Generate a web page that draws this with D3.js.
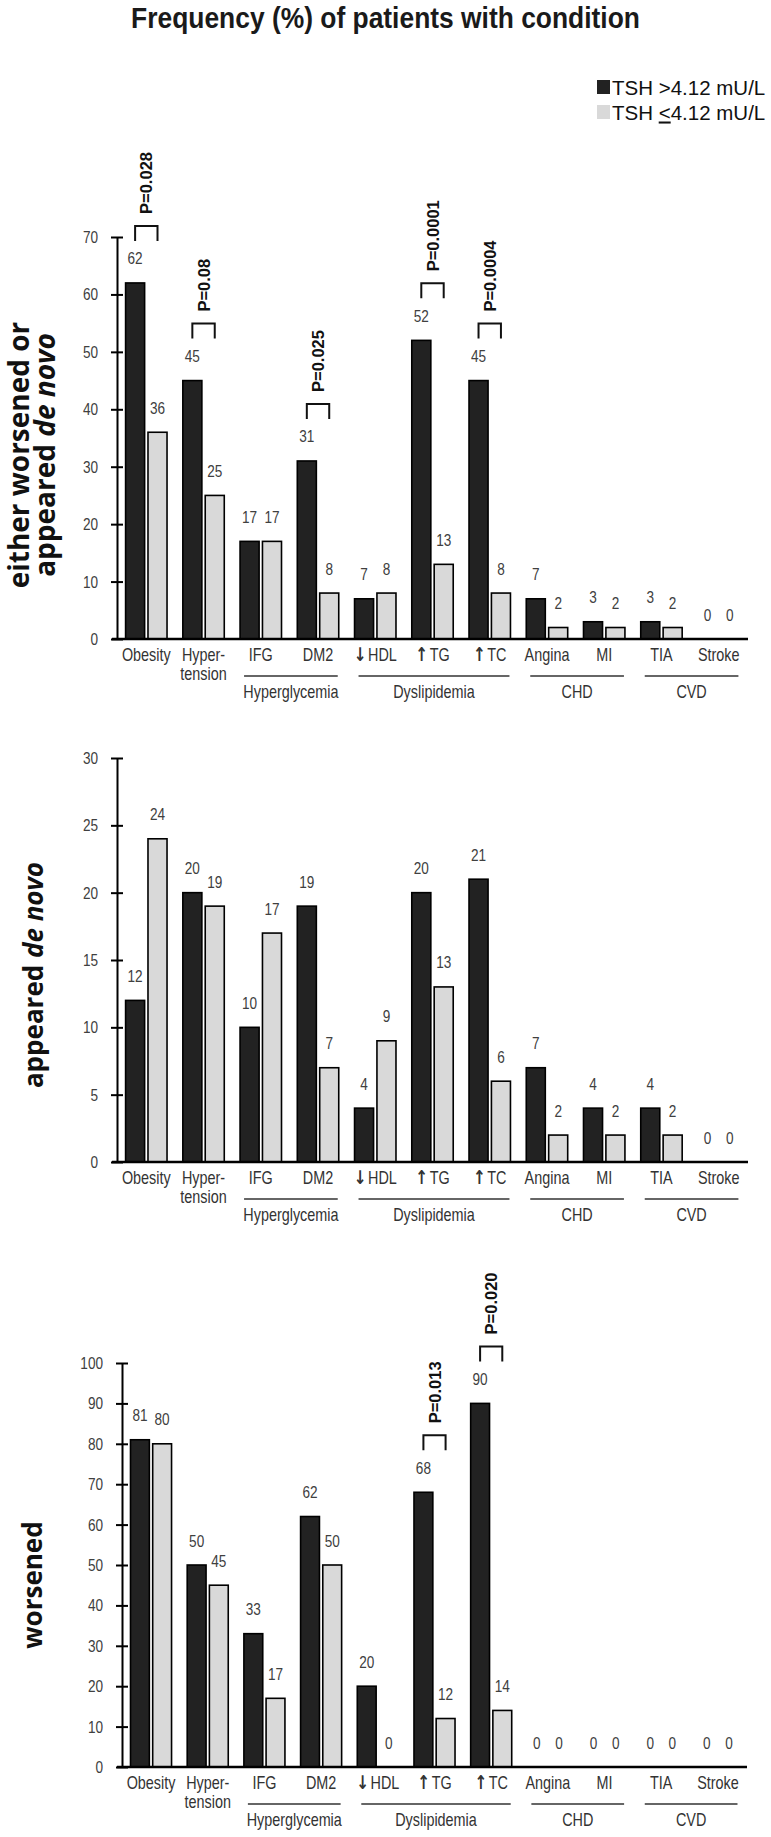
<!DOCTYPE html>
<html>
<head>
<meta charset="utf-8">
<script src="https://cdn.jsdelivr.net/npm/d3@7"></script>
<style>
  html, body { margin: 0; padding: 0; background: #fff; }
  svg { display: block; }
</style>
</head>
<body>
<svg id="chart" width="771" height="1837"></svg>
<script>
// ---------------- DATA ----------------
const categories = ["Obesity", "Hypertension", "IFG", "DM2", "HDL", "TG", "TC", "Angina", "MI", "TIA", "Stroke"];
const categoryLabels = [["Obesity"], ["Hyper-", "tension"], ["IFG"], ["DM2"], ["\u2193HDL"], ["\u2191 TG"], ["\u2191 TC"], ["Angina"], ["MI"], ["TIA"], ["Stroke"]];
const seriesNames = ["TSH >4.12 mU/L", "TSH \u22644.12 mU/L"];

const groupNames = ["Hyperglycemia", "Dyslipidemia", "CHD", "CVD"];
const groupMembers = [["IFG", "DM2"], ["HDL", "TG", "TC"], ["Angina", "MI"], ["TIA", "Stroke"]];

// Panel 1: either worsened or appeared de novo
const p1High = [62, 45, 17, 31, 7, 52, 45, 7, 3, 3, 0];
const p1Low  = [36, 25, 17, 8, 8, 13, 8, 2, 2, 2, 0];
const p1Ticks = [0, 10, 20, 30, 40, 50, 60, 70];
const p1PCats = ["Obesity", "Hypertension", "DM2", "TG", "TC"];
const p1PText = ["P=0.028", "P=0.08", "P=0.025", "P=0.0001", "P=0.0004"];

// Panel 2: appeared de novo
const p2High = [12, 20, 10, 19, 4, 20, 21, 7, 4, 4, 0];
const p2Low  = [24, 19, 17, 7, 9, 13, 6, 2, 2, 2, 0];
const p2Ticks = [0, 5, 10, 15, 20, 25, 30];
const p2PCats = [];
const p2PText = [];

// Panel 3: worsened
const p3High = [81, 50, 33, 62, 20, 68, 90, 0, 0, 0, 0];
const p3Low  = [80, 45, 17, 50, 0, 12, 14, 0, 0, 0, 0];
const p3Ticks = [0, 10, 20, 30, 40, 50, 60, 70, 80, 90, 100];
const p3PCats = ["TG", "TC"];
const p3PText = ["P=0.013", "P=0.020"];

// ---------------- LAYOUT ----------------
const svg = d3.select("#chart");
const ARIAL = "'Liberation Sans', Arial, sans-serif";
const TITLEFONT = "'Open Sans', 'Noto Sans', sans-serif";
const DARK = "#222222", LIGHT = "#d9d9d9";
const NX = 0.8;   // horizontal squeeze for condensed labels

// helper: condensed text at (x,y); arrows drawn larger/bolder
function narrowText(parent, x, y, txt, size, fill, anchor) {
  const t = parent.append("text")
    .attr("transform", `translate(${x},${y}) scale(${NX},1)`)
    .attr("text-anchor", anchor || "middle")
    .style("font-family", ARIAL).style("font-size", size + "px").style("fill", fill);
  const s = String(txt);
  const m = s.match(/^([\u2191\u2193])\s?(.*)$/);
  if (m) {
    t.append("tspan").style("font-family", "'DejaVu Sans', sans-serif")
      .style("font-weight", "bold").style("font-size", (size + 1) + "px").text(m[1]);
    t.append("tspan").attr("dx", 2).text(m[2]);
  } else {
    t.text(s);
  }
  return t;
}

// Title
svg.append("text")
  .attr("transform", "translate(385.5,28) scale(0.88,1)")
  .attr("text-anchor", "middle")
  .style("font-family", ARIAL).style("font-size", "30px").style("font-weight", "bold")
  .style("fill", "#1a1a1a")
  .text("Frequency (%) of patients with condition");

// Legend
const legend = svg.append("g");
[DARK, LIGHT].forEach((c, i) => {
  const cy = 87 + i * 25;
  legend.append("rect").attr("x", 597).attr("y", cy - 7).attr("width", 13).attr("height", 14)
    .attr("fill", c);
  const t = legend.append("text").attr("x", 612).attr("y", cy + 7.5)
    .style("font-family", ARIAL).style("font-size", "20.5px").style("fill", "#111");
  if (i === 0) {
    t.text(seriesNames[0]);
  } else {
    t.append("tspan").text("TSH ");
    t.append("tspan").style("text-decoration", "underline").text("<");
    t.append("tspan").text("4.12 mU/L");
  }
});

const panels = [
  { high: p1High, low: p1Low, ticks: p1Ticks, pCats: p1PCats, pText: p1PText,
    yRange: [639, 237], axisX: 117, xEnd: 748,
    label: [["either worsened or"], ["appeared ", "de novo"]], labelCY: 455, labelX: [29, 55], labelSize: 28 },
  { high: p2High, low: p2Low, ticks: p2Ticks, pCats: p2PCats, pText: p2PText,
    yRange: [1162, 758], axisX: 117, xEnd: 748,
    label: [["appeared ", "de novo"]], labelCY: 975, labelX: [43], labelSize: 26 },
  { high: p3High, low: p3Low, ticks: p3Ticks, pCats: p3PCats, pText: p3PText,
    yRange: [1767, 1363], axisX: 122, xEnd: 747,
    label: [["worsened"]], labelCY: 1585, labelX: [42], labelSize: 26 }
];

panels.forEach(P => {
  const g = svg.append("g");
  const yMax = d3.max(P.ticks);
  const y = d3.scaleLinear().domain([0, yMax]).range(P.yRange);
  const x = d3.scaleBand().domain(categories).range([P.axisX, P.xEnd])
    .paddingInner(0.276).paddingOuter(0.15);
  const xs = d3.scaleBand().domain([0, 1]).range([0, x.bandwidth()]).paddingInner(0.15);
  const y0 = y(0);

  // bars
  const rows = categories.map((c, i) => ({ cat: c, vals: [P.high[i], P.low[i]] }));
  const grp = g.selectAll("g.cat").data(rows).join("g")
    .attr("transform", d => `translate(${x(d.cat)},0)`);
  grp.selectAll("rect").data(d => d.vals.map((v, k) => ({ v, k }))).join("rect")
    .filter(d => d.v > 0)
    .attr("x", d => xs(d.k))
    .attr("y", d => y(d.v))
    .attr("width", xs.bandwidth())
    .attr("height", d => y0 - y(d.v))
    .attr("fill", d => d.k === 0 ? DARK : LIGHT)
    .attr("stroke", "#000").attr("stroke-width", 1.6);
  grp.each(function (d) {
    const gg = d3.select(this);
    d.vals.forEach((v, k) => {
      narrowText(gg, xs(k) + xs.bandwidth() / 2, y(v) - 18.5, v, 17, "#404040");
    });
  });

  // y axis
  const ax = d3.axisLeft(y).tickValues(P.ticks).tickSize(6).tickSizeOuter(0).tickPadding(13);
  const ag = g.append("g").attr("transform", `translate(${P.axisX},0)`).call(ax);
  ag.select(".domain").attr("stroke", "#000").attr("stroke-width", 2);
  ag.selectAll(".tick line").attr("x1", 6).attr("stroke", "#000").attr("stroke-width", 2);
  ag.selectAll(".tick text")
    .attr("x", -19 / NX)
    .attr("transform", `scale(${NX},1)`)
    .style("font-family", ARIAL).style("font-size", "17px").style("fill", "#404040");

  // x axis baseline
  g.append("line").attr("x1", P.axisX - 5).attr("x2", P.xEnd).attr("y1", y0).attr("y2", y0)
    .attr("stroke", "#000").attr("stroke-width", 2.5);

  // category labels
  categoryLabels.forEach((lines, i) => {
    const cx = x(categories[i]) + x.bandwidth() / 2;
    lines.forEach((ln, j) => {
      narrowText(g, cx, y0 + 22 + j * 19, ln, 18, "#333");
    });
  });

  // group lines + labels
  groupNames.forEach((gn, i) => {
    const mem = groupMembers[i];
    const xa = x(mem[0]) + 4;
    const xb = x(mem[mem.length - 1]) + x.bandwidth() - 1;
    g.append("line").attr("x1", xa).attr("x2", xb).attr("y1", y0 + 37).attr("y2", y0 + 37)
      .attr("stroke", "#333").attr("stroke-width", 1.5);
    narrowText(g, (xa + xb) / 2, y0 + 59, gn, 18, "#333");
  });

  // significance brackets
  P.pCats.forEach((c, i) => {
    const idx = categories.indexOf(c);
    const top = y(Math.max(P.high[idx], P.low[idx]));
    const xa = x(c) + xs(0) + xs.bandwidth() / 2;
    const xb = x(c) + xs(1) + xs.bandwidth() / 2;
    const bt = top - 57, bb = top - 42;
    g.append("path")
      .attr("d", `M${xa},${bb}V${bt}H${xb}V${bb}`)
      .attr("fill", "none").attr("stroke", "#111").attr("stroke-width", 2);
    g.append("text")
      .attr("transform", `translate(${(xa + xb) / 2 + 6},${bt - 12}) rotate(-90)`)
      .style("font-family", ARIAL).style("font-size", "16.5px").style("font-weight", "bold")
      .style("fill", "#111")
      .text(P.pText[i]);
  });

  // y label
  P.label.forEach((parts, j) => {
    const t = g.append("text")
      .attr("transform", `translate(${P.labelX[j]},${P.labelCY}) rotate(-90)`)
      .attr("text-anchor", "middle")
      .style("font-family", TITLEFONT).style("font-size", P.labelSize + "px").style("font-weight", "bold")
      .style("fill", "#111");
    parts.forEach((p, k) => {
      t.append("tspan").style("font-style", k === 1 ? "italic" : "normal").text(p);
    });
  });
});
</script>
</body>
</html>
